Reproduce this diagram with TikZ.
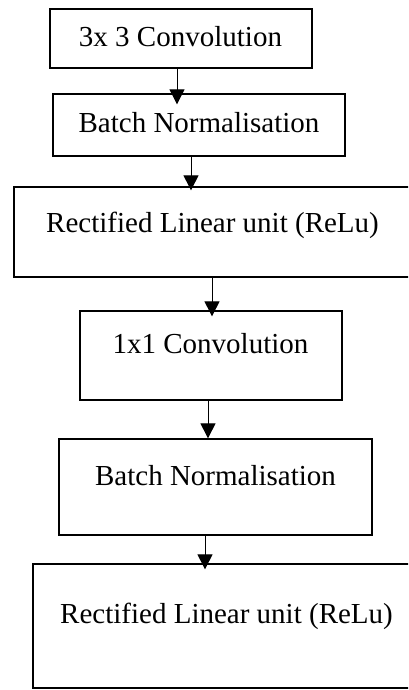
\documentclass[tikz,border=0pt]{standalone}
\usepackage{fontspec}
\setmainfont{Liberation Serif}
\usetikzlibrary{arrows.meta}
\begin{document}
\begin{tikzpicture}[x=1pt,y=-1pt,
  stagebox/.style={draw=black,line width=1.3pt,rectangle,inner sep=0pt,fill=white},
  lbl/.style={anchor=base,inner sep=0pt,font=\fontsize{29}{32}\selectfont},
  flow/.style={line width=1pt,-{Triangle[length=15pt,width=15pt]}}]
  \useasboundingbox (0,0) rectangle (408,690);
  \clip (0,0) rectangle (408,690);
  \fill[white] (0,0) rectangle (408,690);

  % processing stages
  \node[stagebox,minimum width=262pt,minimum height=59pt] (b1) at (181,38.5) {};
  \node[stagebox,minimum width=292pt,minimum height=62pt] (b2) at (199,125) {};
  \node[stagebox,minimum width=397pt,minimum height=90pt] (b3) at (212.5,232) {};
  \node[stagebox,minimum width=262pt,minimum height=89pt] (b4) at (211,355.5) {};
  \node[stagebox,minimum width=313pt,minimum height=96pt] (b5) at (215.5,487) {};
  \node[stagebox,minimum width=387pt,minimum height=124pt] (b6) at (226.5,626) {};

  % stage labels
  \node[lbl] (t1) at (180.5,47) {3x 3 Convolution};
  \node[lbl] (t2) at (199,132) {Batch Normalisation};
  \node[lbl] (t3) at (212.5,232) {Rectified Linear unit (ReLu)};
  \node[lbl] (t4) at (210.5,353) {1x1 Convolution};
  \node[lbl] (t5) at (215.5,485) {Batch Normalisation};
  \node[lbl] (t6) at (226.5,623) {Rectified Linear unit (ReLu)};

  % connector columns
  \coordinate (c1) at (177,0);
  \coordinate (c2) at (191,0);
  \coordinate (c3) at (212,0);
  \coordinate (c4) at (208,0);
  \coordinate (c5) at (205,0);

  \draw[flow,shorten >=-11pt] (b1.south -| c1) -- (b2.north -| c1);
  \draw[flow,shorten >=-4pt] (b2.south -| c2) -- (b3.north -| c2);
  \draw[flow,shorten >=-6pt] (b3.south -| c3) -- (b4.north -| c3);
  \draw[flow] (b4.south -| c4) -- (b5.north -| c4);
  \draw[flow,shorten >=-6pt] (b5.south -| c5) -- (b6.north -| c5);
\end{tikzpicture}
\end{document}
